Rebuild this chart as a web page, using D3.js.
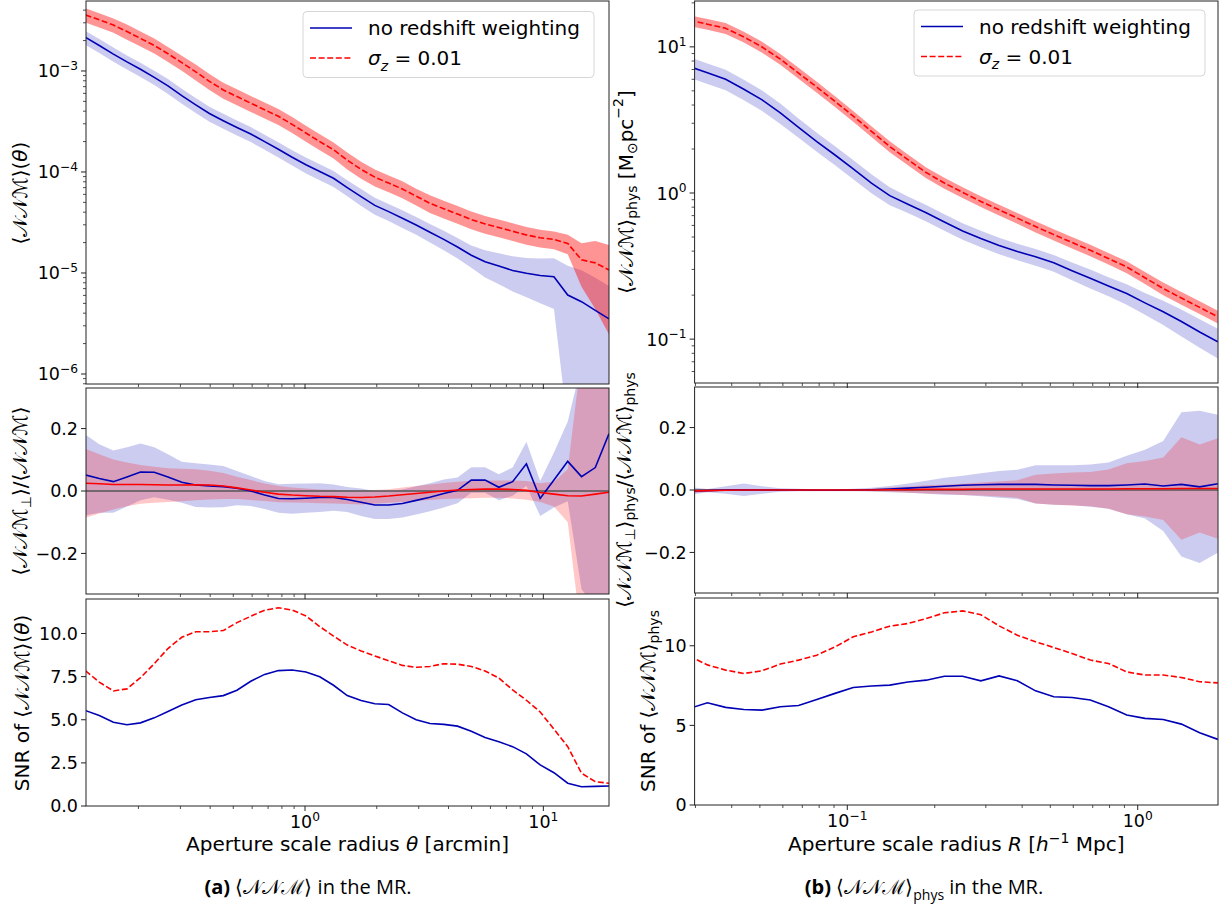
<!DOCTYPE html>
<html>
<head>
<meta charset="utf-8">
<script src="https://cdn.jsdelivr.net/npm/d3@7"></script>
<style>
  body { margin: 0; background: #fff; }
  svg text { font-family: "DejaVu Sans", sans-serif; fill: #000; }
</style>
</head>
<body>
<svg id="chart" width="1227" height="906"></svg>
<script>
// ==========================
// DATA  (a) angular, (b) physical
// ==========================
const thetaX = [0.120, 0.137, 0.157, 0.179, 0.204, 0.233, 0.266, 0.304, 0.348, 0.397,
  0.454, 0.518, 0.592, 0.677, 0.773, 0.883, 1.009, 1.153, 1.317, 1.504,
  1.719, 1.963, 2.243, 2.562, 2.927, 3.344, 3.820, 4.364, 4.985, 5.695,
  6.506, 7.433, 8.491, 9.700, 11.08, 12.66, 14.46, 16.52, 18.87];

const nnmBlueA = [2.15e-3, 1.79e-3, 1.47e-3, 1.23e-3, 1.04e-3, 8.65e-4, 7.13e-4, 5.70e-4, 4.62e-4, 3.79e-4,
  3.22e-4, 2.76e-4, 2.38e-4, 2.00e-4, 1.68e-4, 1.40e-4, 1.18e-4, 1.01e-4, 8.67e-5, 7.00e-5,
  5.70e-5, 4.67e-5, 4.05e-5, 3.49e-5, 2.99e-5, 2.53e-5, 2.15e-5, 1.81e-5, 1.50e-5, 1.29e-5,
  1.17e-5, 1.06e-5, 9.93e-6, 9.44e-6, 9.18e-6, 6.05e-6, 5.20e-6, 4.27e-6, 3.51e-6];
const nnmBlueRelErrA = [0.16, 0.16, 0.16, 0.16, 0.16, 0.16, 0.17, 0.17, 0.17, 0.17,
  0.17, 0.17, 0.17, 0.17, 0.17, 0.17, 0.18, 0.18, 0.18, 0.18,
  0.19, 0.19, 0.19, 0.20, 0.20, 0.21, 0.22, 0.23, 0.25, 0.30,
  0.34, 0.38, 0.42, 0.47, 0.52, 0.95, 1.05, 1.10, 1.12];
const nnmRedA = [3.59e-3, 3.21e-3, 2.85e-3, 2.46e-3, 2.10e-3, 1.79e-3, 1.48e-3, 1.21e-3, 9.8e-4, 7.9e-4,
  6.49e-4, 5.58e-4, 4.80e-4, 4.13e-4, 3.56e-4, 2.96e-4, 2.43e-4, 2.00e-4, 1.66e-4, 1.31e-4,
  1.06e-4, 8.89e-5, 7.76e-5, 6.79e-5, 5.75e-5, 4.90e-5, 4.33e-5, 3.83e-5, 3.38e-5, 3.06e-5,
  2.82e-5, 2.59e-5, 2.38e-5, 2.23e-5, 2.15e-5, 1.96e-5, 1.35e-5, 1.26e-5, 1.07e-5];
const nnmRedRelErrA = [0.16, 0.16, 0.16, 0.17, 0.17, 0.17, 0.17, 0.17, 0.18, 0.18,
  0.18, 0.18, 0.18, 0.18, 0.18, 0.18, 0.18, 0.18, 0.18, 0.19,
  0.19, 0.19, 0.19, 0.19, 0.19, 0.20, 0.20, 0.20, 0.20, 0.20,
  0.20, 0.20, 0.20, 0.20, 0.20, 0.22, 0.46, 0.65, 0.77];

const ratioBlueA = [0.051, 0.040, 0.030, 0.045, 0.061, 0.060, 0.045, 0.028, 0.019, 0.016,
  0.014, 0.009, 0.000, -0.013, -0.024, -0.025, -0.023, -0.021, -0.021, -0.027,
  -0.036, -0.045, -0.045, -0.040, -0.030, -0.020, -0.008, 0.002, 0.035, 0.035,
  0.012, 0.030, 0.087, -0.024, 0.035, 0.095, 0.046, 0.075, 0.184];
const ratioBlueErrA = [0.129, 0.110, 0.100, 0.095, 0.091, 0.080, 0.073, 0.066, 0.070, 0.069,
  0.066, 0.055, 0.048, 0.045, 0.046, 0.048, 0.047, 0.046, 0.042, 0.040,
  0.044, 0.045, 0.045, 0.045, 0.045, 0.045, 0.045, 0.041, 0.041, 0.041,
  0.042, 0.045, 0.071, 0.056, 0.088, 0.128, 0.36, 0.45, 0.55];
const ratioRedA = [0.025, 0.023, 0.021, 0.021, 0.021, 0.020, 0.019, 0.019, 0.020, 0.019,
  0.016, 0.010, 0.003, -0.004, -0.010, -0.013, -0.015, -0.017, -0.018, -0.020,
  -0.021, -0.019, -0.016, -0.012, -0.008, -0.004, 0.000, 0.003, 0.005, 0.006,
  0.006, 0.005, 0.002, -0.005, -0.010, -0.015, -0.016, -0.010, -0.004];
const ratioRedErrA = [0.110, 0.095, 0.080, 0.070, 0.062, 0.058, 0.054, 0.052, 0.050, 0.046,
  0.042, 0.036, 0.032, 0.028, 0.026, 0.024, 0.023, 0.022, 0.022, 0.022,
  0.022, 0.022, 0.022, 0.023, 0.024, 0.025, 0.026, 0.027, 0.028, 0.028,
  0.028, 0.029, 0.030, 0.030, 0.040, 0.085, 0.45, 0.50, 0.55];

const snrBlueA = [5.53, 5.24, 4.86, 4.71, 4.82, 5.11, 5.48, 5.86, 6.16, 6.29,
  6.40, 6.71, 7.23, 7.63, 7.85, 7.88, 7.77, 7.49, 7.00, 6.40,
  6.11, 5.93, 5.88, 5.40, 5.00, 4.78, 4.73, 4.63, 4.33, 3.97,
  3.72, 3.44, 3.02, 2.38, 1.93, 1.32, 1.12, 1.14, 1.16];
const snrRedA = [7.84, 7.18, 6.67, 6.79, 7.44, 8.25, 9.13, 9.78, 10.10, 10.10,
  10.17, 10.63, 11.00, 11.35, 11.49, 11.36, 11.02, 10.40, 9.85, 9.33,
  8.99, 8.70, 8.42, 8.15, 8.04, 8.09, 8.25, 8.22, 8.09, 7.83,
  7.42, 6.73, 6.13, 5.45, 4.45, 3.44, 1.90, 1.41, 1.32];

const radiusX = [0.02854, 0.03298, 0.03811, 0.04404, 0.05089, 0.05880, 0.06794, 0.07851, 0.09072, 0.1048,
  0.1211, 0.1400, 0.1617, 0.1869, 0.2159, 0.2495, 0.2883, 0.3332, 0.3850, 0.4449,
  0.5140, 0.5940, 0.6864, 0.7931, 0.9164, 1.059, 1.224, 1.414, 1.634, 1.888];

const physBlueB = [7.35, 6.64, 6.00, 5.13, 4.34, 3.53, 2.81, 2.25, 1.82, 1.46,
  1.17, 0.959, 0.838, 0.733, 0.634, 0.550, 0.489, 0.438, 0.398, 0.366,
  0.333, 0.294, 0.261, 0.231, 0.205, 0.177, 0.154, 0.132, 0.112, 0.0959];
const physBlueRelErrB = [0.16, 0.16, 0.16, 0.16, 0.16, 0.16, 0.15, 0.15, 0.15, 0.15,
  0.15, 0.14, 0.13, 0.13, 0.13, 0.13, 0.13, 0.13, 0.13, 0.13,
  0.13, 0.14, 0.15, 0.15, 0.16, 0.17, 0.19, 0.21, 0.22, 0.23];
const physRedB = [15.2, 14.3, 13.4, 11.7, 9.98, 8.24, 6.62, 5.31, 4.23, 3.36,
  2.64, 2.08, 1.69, 1.38, 1.17, 1.01, 0.875, 0.767, 0.673, 0.589,
  0.519, 0.459, 0.406, 0.356, 0.312, 0.263, 0.222, 0.191, 0.165, 0.142];
const physRedRelErrB = [0.085, 0.085, 0.085, 0.085, 0.085, 0.085, 0.085, 0.085, 0.085, 0.085,
  0.085, 0.085, 0.085, 0.085, 0.085, 0.085, 0.085, 0.085, 0.085, 0.09,
  0.09, 0.09, 0.09, 0.09, 0.095, 0.095, 0.10, 0.10, 0.10, 0.10];

const ratioBlueB = [-0.003, -0.002, 0.000, 0.001, 0.000, 0.000, 0.000, -0.001, -0.001, 0.000,
  0.001, 0.003, 0.006, 0.009, 0.012, 0.015, 0.017, 0.018, 0.018, 0.018,
  0.016, 0.015, 0.014, 0.014, 0.016, 0.019, 0.013, 0.018, 0.010, 0.020];
const ratioBlueErrB = [0.013, 0.005, 0.012, 0.020, 0.012, 0.006, 0.004, 0.003, 0.003, 0.004,
  0.006, 0.010, 0.015, 0.021, 0.027, 0.031, 0.037, 0.043, 0.047, 0.061,
  0.063, 0.064, 0.068, 0.074, 0.094, 0.110, 0.144, 0.231, 0.244, 0.221];
const ratioRedB = [-0.003, -0.002, -0.001, 0.000, 0.000, 0.000, 0.000, 0.000, 0.000, 0.000,
  0.000, 0.001, 0.001, 0.002, 0.002, 0.002, 0.003, 0.003, 0.003, 0.003,
  0.003, 0.003, 0.003, 0.003, 0.004, 0.004, 0.004, 0.005, 0.005, 0.005];
const ratioRedErrB = [0.008, 0.004, 0.002, 0.002, 0.002, 0.002, 0.002, 0.002, 0.002, 0.002,
  0.004, 0.007, 0.010, 0.013, 0.015, 0.018, 0.021, 0.024, 0.028, 0.046,
  0.050, 0.053, 0.055, 0.063, 0.082, 0.089, 0.100, 0.164, 0.141, 0.161];

const snrBlueB = [6.06, 6.42, 6.13, 6.00, 5.96, 6.17, 6.25, 6.63, 7.01, 7.38,
  7.47, 7.53, 7.72, 7.84, 8.09, 8.09, 7.80, 8.11, 7.80, 7.17,
  6.80, 6.75, 6.59, 6.17, 5.65, 5.44, 5.37, 5.08, 4.54, 4.12];
const snrRedB = [9.35, 8.80, 8.47, 8.26, 8.43, 8.85, 9.10, 9.41, 9.93, 10.56,
  10.87, 11.23, 11.40, 11.71, 12.07, 12.19, 11.95, 11.25, 10.66, 10.25,
  9.89, 9.52, 9.10, 8.89, 8.36, 8.16, 8.16, 8.01, 7.74, 7.67];

const legendLabels = ["no redshift weighting", "σz = 0.01"];
const snrTicksA = [0, 2.5, 5, 7.5, 10];
const snrTicksB = [0, 5, 10];
const ratioTicks = [-0.2, 0, 0.2];

// ==========================
// SETUP
// ==========================
const svg = d3.select("#chart");
const BLUE = "#0000b4";
const RED = "#ff0000";
const TICK_FS = 17.5;
const LABEL_FS = 20;

const xA = d3.scaleLog().domain([0.1205, 18.86]).range([86, 609]);
const xB = d3.scaleLog().domain([0.0298, 1.89]).range([694.6, 1218]);

let clipCount = 0;

// minor/major ticks of a log axis inside a domain
function logTicks(domain) {
  const major = [], minor = [];
  const lo = Math.floor(Math.log10(domain[0])), hi = Math.ceil(Math.log10(domain[1]));
  for (let e = lo; e <= hi; e++) {
    for (let m = 1; m < 10; m++) {
      const v = m * Math.pow(10, e);
      if (v < domain[0] * 0.999 || v > domain[1] * 1.001) continue;
      (m === 1 ? major : minor).push(v);
    }
  }
  return { major, minor };
}

// text with sub/superscripts
function rich(text, parts, size) {
  let shift = 0;
  parts.forEach(p => {
    const target = p.sub ? 0.28 : p.sup ? -0.42 : 0;
    const ts = text.append("tspan").text(p.t);
    const dy = (target - shift) * size;
    if (dy) ts.attr("dy", dy);
    if (p.sub || p.sup) ts.attr("font-size", size * 0.7);
    if (p.it) ts.attr("font-style", "italic");
    if (p.bold) ts.attr("font-weight", "bold");
    shift = target;
  });
}

function powParts(e) {
  return [{ t: "10" }, { t: e < 0 ? "−" + (-e) : String(e), sup: true }];
}

function panel(o) {
  const g = svg.append("g");
  const id = "clip" + (clipCount++);
  svg.append("clipPath").attr("id", id).append("rect")
    .attr("x", o.x.range()[0]).attr("y", o.y.range()[1])
    .attr("width", o.x.range()[1] - o.x.range()[0])
    .attr("height", o.y.range()[0] - o.y.range()[1]);
  const plot = g.append("g").attr("clip-path", `url(#${id})`);
  return { g, plot };
}

function drawBand(plot, x, y, xs, lo, hi, color, opacity) {
  const pts = xs.map((v, i) => ({ x: v, lo: lo[i], hi: hi[i] }));
  plot.append("path")
    .datum(pts)
    .attr("d", d3.area().x(d => x(d.x)).y0(d => y(d.lo)).y1(d => y(d.hi)))
    .attr("fill", color)
    .attr("fill-opacity", opacity)
    .attr("stroke", "none");
}

function drawLine(plot, x, y, xs, ys, color, dashed) {
  plot.append("path")
    .datum(xs.map((v, i) => [v, ys[i]]))
    .attr("d", d3.line().x(d => x(d[0])).y(d => y(d[1])))
    .attr("fill", "none")
    .attr("stroke", color)
    .attr("stroke-width", 1.6)
    .attr("stroke-dasharray", dashed ? "6,2.6" : null);
}

function frameAndTicks(g, x, y, opt) {
  const [xl, xr] = x.range();
  const [yb, yt] = y.range();
  // x ticks (bottom, outward)
  const xt = logTicks(x.domain());
  xt.minor.forEach(v => g.append("line").attr("x1", x(v)).attr("x2", x(v))
    .attr("y1", yb).attr("y2", yb + 3).attr("stroke", "#222").attr("stroke-width", 0.8));
  xt.major.forEach(v => g.append("line").attr("x1", x(v)).attr("x2", x(v))
    .attr("y1", yb).attr("y2", yb + 5).attr("stroke", "#222").attr("stroke-width", 1));
  if (opt.xLabels) {
    xt.major.forEach(v => {
      const t = g.append("text").attr("x", x(v)).attr("y", yb + 22)
        .attr("text-anchor", "middle").attr("font-size", TICK_FS);
      rich(t, powParts(Math.round(Math.log10(v))), TICK_FS);
    });
  }
  // y ticks (left, outward)
  if (opt.logY) {
    const yt2 = logTicks(y.domain());
    yt2.minor.forEach(v => g.append("line").attr("x1", xl - 3).attr("x2", xl)
      .attr("y1", y(v)).attr("y2", y(v)).attr("stroke", "#222").attr("stroke-width", 0.8));
    yt2.major.forEach(v => {
      g.append("line").attr("x1", xl - 5).attr("x2", xl)
        .attr("y1", y(v)).attr("y2", y(v)).attr("stroke", "#222").attr("stroke-width", 1);
      const t = g.append("text").attr("x", xl - 8).attr("y", y(v) + 6.5)
        .attr("text-anchor", "end").attr("font-size", TICK_FS);
      rich(t, powParts(Math.round(Math.log10(v))), TICK_FS);
    });
  } else {
    opt.yTicks.forEach(v => {
      g.append("line").attr("x1", xl - 5).attr("x2", xl)
        .attr("y1", y(v)).attr("y2", y(v)).attr("stroke", "#222").attr("stroke-width", 1);
      g.append("text").attr("x", xl - 8).attr("y", y(v) + 6.3)
        .attr("text-anchor", "end").attr("font-size", TICK_FS)
        .text(opt.yFmt(v));
    });
  }
  g.append("rect").attr("x", xl).attr("y", yt).attr("width", xr - xl).attr("height", yb - yt)
    .attr("fill", "none").attr("stroke", "#222").attr("stroke-width", 1);
}

function yLabel(cx, cy, parts) {
  const t = svg.append("text")
    .attr("transform", `translate(${cx},${cy}) rotate(-90)`)
    .attr("text-anchor", "middle")
    .attr("dominant-baseline", "central")
    .attr("font-size", LABEL_FS);
  rich(t, parts, LABEL_FS);
}

function legend(x0, y0) {
  const g = svg.append("g");
  g.append("rect").attr("x", x0).attr("y", y0).attr("width", 291).attr("height", 66).attr("rx", 4)
    .attr("fill", "#fff").attr("fill-opacity", 0.8).attr("stroke", "#d6d6d6").attr("stroke-width", 1);
  g.append("line").attr("x1", x0 + 7).attr("x2", x0 + 49).attr("y1", y0 + 16.5).attr("y2", y0 + 16.5)
    .attr("stroke", BLUE).attr("stroke-width", 1.6);
  g.append("line").attr("x1", x0 + 7).attr("x2", x0 + 49).attr("y1", y0 + 46.5).attr("y2", y0 + 46.5)
    .attr("stroke", RED).attr("stroke-width", 1.6).attr("stroke-dasharray", "6,2.6");
  g.append("text").attr("x", x0 + 65).attr("y", y0 + 23.5).attr("font-size", LABEL_FS).text(legendLabels[0]);
  const t = g.append("text").attr("x", x0 + 65).attr("y", y0 + 53.5).attr("font-size", LABEL_FS);
  rich(t, [{ t: "σ", it: true }, { t: "z", it: true, sub: true }, { t: " = 0.01" }], LABEL_FS);
}

const NNM = "⟨𝒩𝒩ℳ⟩";
const fmt1 = v => (v < 0 ? "−" : "") + Math.abs(v).toFixed(1);
const fmt0 = v => String(v);

// ==========================
// (a) LEFT COLUMN
// ==========================
{
  const y1 = d3.scaleLog().domain([7.96e-7, 4.93e-3]).range([384, 1]);
  const p1 = panel({ x: xA, y: y1 });
  const lo = (v, r) => v.map((d, i) => Math.max(d * (1 - r[i]), 1e-12));
  const hi = (v, r) => v.map((d, i) => d * (1 + r[i]));
  drawBand(p1.plot, xA, y1, thetaX, lo(nnmBlueA, nnmBlueRelErrA), hi(nnmBlueA, nnmBlueRelErrA), BLUE, 0.2);
  drawBand(p1.plot, xA, y1, thetaX, lo(nnmRedA, nnmRedRelErrA), hi(nnmRedA, nnmRedRelErrA), RED, 0.42);
  drawLine(p1.plot, xA, y1, thetaX, nnmBlueA, BLUE, false);
  drawLine(p1.plot, xA, y1, thetaX, nnmRedA, RED, true);
  frameAndTicks(p1.g, xA, y1, { logY: true });

  const y2 = d3.scaleLinear().domain([-0.33, 0.33]).range([594, 388]);
  const p2 = panel({ x: xA, y: y2 });
  drawBand(p2.plot, xA, y2, thetaX, ratioBlueA.map((d, i) => d - ratioBlueErrA[i]), ratioBlueA.map((d, i) => d + ratioBlueErrA[i]), BLUE, 0.2);
  drawBand(p2.plot, xA, y2, thetaX, ratioRedA.map((d, i) => d - ratioRedErrA[i]), ratioRedA.map((d, i) => d + ratioRedErrA[i]), RED, 0.22);
  p2.plot.append("line").attr("x1", xA.range()[0]).attr("x2", xA.range()[1]).attr("y1", y2(0)).attr("y2", y2(0))
    .attr("stroke", "#555").attr("stroke-width", 1.5);
  drawLine(p2.plot, xA, y2, thetaX, ratioBlueA, BLUE, false);
  drawLine(p2.plot, xA, y2, thetaX, ratioRedA, RED, false);
  frameAndTicks(p2.g, xA, y2, { yTicks: ratioTicks, yFmt: fmt1 });

  const y3 = d3.scaleLinear().domain([0, 12]).range([806, 599]);
  const p3 = panel({ x: xA, y: y3 });
  drawLine(p3.plot, xA, y3, thetaX, snrBlueA, BLUE, false);
  drawLine(p3.plot, xA, y3, thetaX, snrRedA, RED, true);
  frameAndTicks(p3.g, xA, y3, { yTicks: snrTicksA, yFmt: fmt1, xLabels: true });

  legend(303, 11.5);

  yLabel(20, 193, [{ t: NNM + "(" }, { t: "θ", it: true }, { t: ")" }]);
  yLabel(20, 491, [{ t: "⟨𝒩𝒩ℳ" }, { t: "⊥", sub: true }, { t: "⟩/" + NNM }]);
  yLabel(22, 703, [{ t: "SNR of " + NNM + "(" }, { t: "θ", it: true }, { t: ")" }]);

  const xl = svg.append("text").attr("x", (xA.range()[0] + xA.range()[1]) / 2).attr("y", 851)
    .attr("text-anchor", "middle").attr("font-size", LABEL_FS);
  rich(xl, [{ t: "Aperture scale radius " }, { t: "θ", it: true }, { t: " [arcmin]" }], LABEL_FS);
}

// ==========================
// (b) RIGHT COLUMN
// ==========================
{
  const y1 = d3.scaleLog().domain([0.0501, 20.6]).range([383, 1]);
  const p1 = panel({ x: xB, y: y1 });
  const lo = (v, r) => v.map((d, i) => Math.max(d * (1 - r[i]), 1e-12));
  const hi = (v, r) => v.map((d, i) => d * (1 + r[i]));
  drawBand(p1.plot, xB, y1, radiusX, lo(physBlueB, physBlueRelErrB), hi(physBlueB, physBlueRelErrB), BLUE, 0.2);
  drawBand(p1.plot, xB, y1, radiusX, lo(physRedB, physRedRelErrB), hi(physRedB, physRedRelErrB), RED, 0.42);
  drawLine(p1.plot, xB, y1, radiusX, physBlueB, BLUE, false);
  drawLine(p1.plot, xB, y1, radiusX, physRedB, RED, true);
  frameAndTicks(p1.g, xB, y1, { logY: true });

  const y2 = d3.scaleLinear().domain([-0.33, 0.33]).range([593, 387]);
  const p2 = panel({ x: xB, y: y2 });
  drawBand(p2.plot, xB, y2, radiusX, ratioBlueB.map((d, i) => d - ratioBlueErrB[i]), ratioBlueB.map((d, i) => d + ratioBlueErrB[i]), BLUE, 0.2);
  drawBand(p2.plot, xB, y2, radiusX, ratioRedB.map((d, i) => d - ratioRedErrB[i]), ratioRedB.map((d, i) => d + ratioRedErrB[i]), RED, 0.22);
  p2.plot.append("line").attr("x1", xB.range()[0]).attr("x2", xB.range()[1]).attr("y1", y2(0)).attr("y2", y2(0))
    .attr("stroke", "#555").attr("stroke-width", 1.5);
  drawLine(p2.plot, xB, y2, radiusX, ratioBlueB, BLUE, false);
  drawLine(p2.plot, xB, y2, radiusX, ratioRedB, RED, false);
  frameAndTicks(p2.g, xB, y2, { yTicks: ratioTicks, yFmt: fmt1 });

  const y3 = d3.scaleLinear().domain([0, 13]).range([805, 598]);
  const p3 = panel({ x: xB, y: y3 });
  drawLine(p3.plot, xB, y3, radiusX, snrBlueB, BLUE, false);
  drawLine(p3.plot, xB, y3, radiusX, snrRedB, RED, true);
  frameAndTicks(p3.g, xB, y3, { yTicks: snrTicksB, yFmt: fmt0, xLabels: true });

  legend(914, 10);

  yLabel(626, 192, [{ t: NNM }, { t: "phys", sub: true }, { t: "  [M" }, { t: "⊙", sub: true }, { t: "pc" }, { t: "−2", sup: true }, { t: "]" }]);
  yLabel(624, 490, [{ t: "⟨𝒩𝒩ℳ" }, { t: "⊥", sub: true }, { t: "⟩" }, { t: "phys", sub: true }, { t: "/" + NNM }, { t: "phys", sub: true }]);
  yLabel(648, 701, [{ t: "SNR of " + NNM }, { t: "phys", sub: true }]);

  const xl = svg.append("text").attr("x", (xB.range()[0] + xB.range()[1]) / 2).attr("y", 851)
    .attr("text-anchor", "middle").attr("font-size", LABEL_FS);
  rich(xl, [{ t: "Aperture scale radius " }, { t: "R", it: true }, { t: " [" }, { t: "h", it: true },
    { t: "−1", sup: true }, { t: " Mpc]" }], LABEL_FS);
}

// ==========================
// CAPTIONS
// ==========================
function caption(cx, parts) {
  const t = svg.append("text").attr("x", cx).attr("y", 894).attr("text-anchor", "middle")
    .attr("font-size", 20).style("font-family", "'Open Sans', 'Noto Sans', sans-serif");
  rich(t, parts, 20);
}
caption(308, [{ t: "(a)", bold: true }, { t: " " + NNM + " in the MR." }]);
caption(924, [{ t: "(b)", bold: true }, { t: " " + NNM }, { t: "phys", sub: true }, { t: " in the MR." }]);
</script>
</body>
</html>
